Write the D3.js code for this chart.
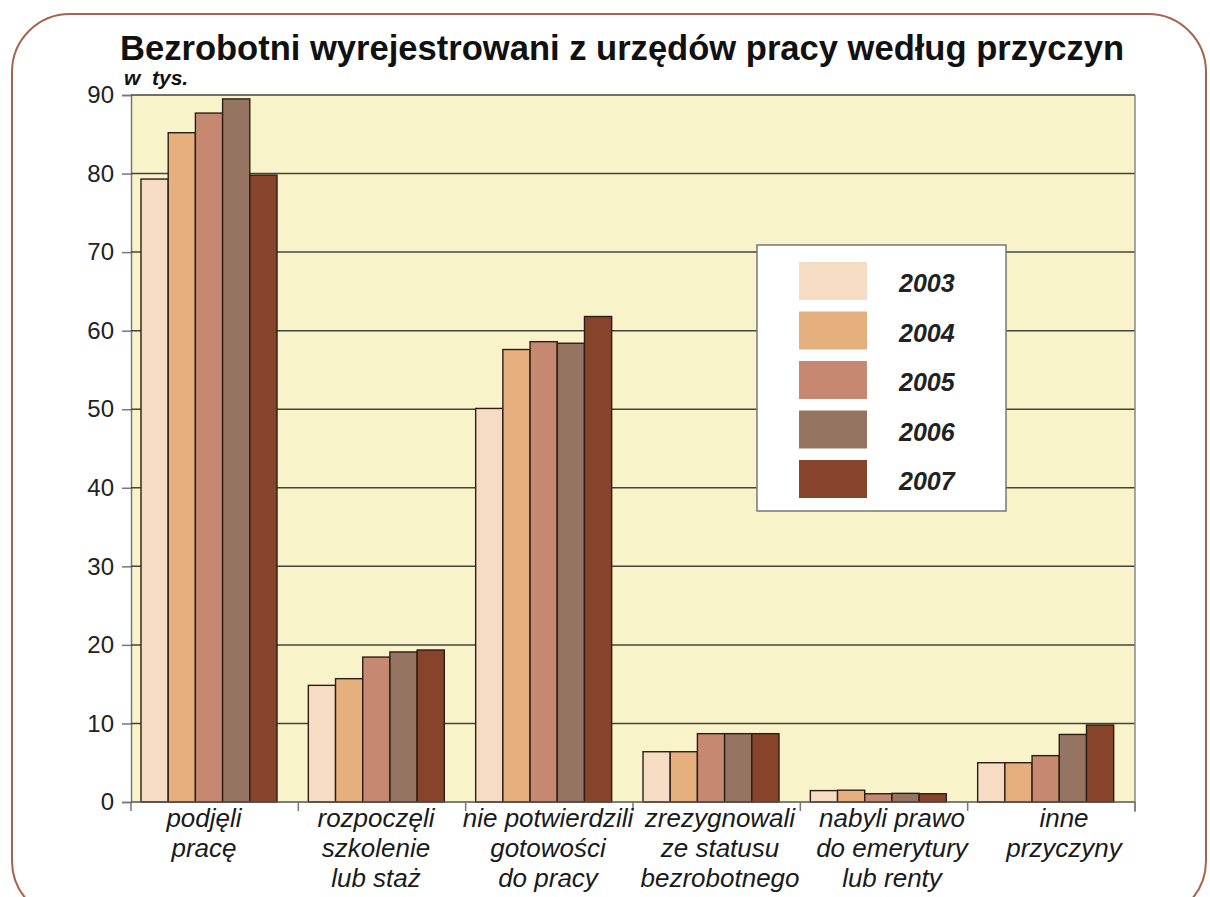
<!DOCTYPE html>
<html>
<head>
<meta charset="utf-8">
<script src="https://cdn.jsdelivr.net/npm/d3@7"></script>
<style>
  body { margin: 0; background: #fff; }
  svg { display: block; font-family: "Liberation Sans", Arial, sans-serif; }
</style>
</head>
<body>
<div id="chart"></div>
<script>
var w = 1210;
var h = 897;

// categories (each one split in lines as on the picture)
var categories = [
    ["podjęli", "pracę"],
    ["rozpoczęli", "szkolenie", "lub staż"],
    ["nie potwierdzili", "gotowości", "do pracy"],
    ["zrezygnowali", "ze statusu", "bezrobotnego"],
    ["nabyli prawo", "do emerytury", "lub renty"],
    ["inne", "przyczyny"]
];
var years = ["2003", "2004", "2005", "2006", "2007"];
// values in thousands, one array per year
var values2003 = [79.3, 14.85, 50.1, 6.4, 1.45, 5.0];
var values2004 = [85.2, 15.7, 57.6, 6.4, 1.5, 5.0];
var values2005 = [87.7, 18.45, 58.6, 8.7, 1.05, 5.9];
var values2006 = [89.5, 19.1, 58.4, 8.7, 1.1, 8.6];
var values2007 = [79.8, 19.35, 61.8, 8.7, 1.05, 9.8];
var yTicks = [0, 10, 20, 30, 40, 50, 60, 70, 80, 90];

var seriesValues = [values2003, values2004, values2005, values2006, values2007];
var colors = ["#F7DCC4", "#E6AF7E", "#C78872", "#957461", "#88432B"];

var plot = {left: 131, right: 1135, top: 95, bottom: 802};

var svg = d3.select("#chart")
    .append("svg")
    .attr("width", w)
    .attr("height", h);

//outer rounded frame
svg.append("rect")
    .attr("x", 12)
    .attr("y", 14)
    .attr("width", 1194)
    .attr("height", 905)
    .attr("rx", 58)
    .attr("ry", 58)
    .attr("fill", "none")
    .attr("stroke", "#A8634E")
    .attr("stroke-width", 2);

//title
svg.append("text")
    .attr("x", 120)
    .attr("y", 60)
    .attr("textLength", 1004)
    .attr("lengthAdjust", "spacingAndGlyphs")
    .style("font-size", "35px")
    .style("font-weight", "bold")
    .attr("fill", "#111")
    .text("Bezrobotni wyrejestrowani z urzędów pracy według przyczyn");

svg.append("text")
    .attr("x", 124)
    .attr("y", 85)
    .style("font-size", "21px")
    .style("font-weight", "bold")
    .style("font-style", "italic")
    .attr("fill", "#111")
    .attr("xml:space", "preserve")
    .text("w  tys.");

var catNames = categories.map(function (d) { return d.join(" "); });

var x = d3.scaleBand()
    .domain(catNames)
    .range([plot.left, plot.right])
    .padding(0);

var xInner = d3.scaleBand()
    .domain(years)
    .range([10, 146])
    .padding(0);

//labels sit a bit wider apart than the groups
var xLabel = d3.scaleBand()
    .domain(catNames)
    .range([118, 1150]);

var y = d3.scaleLinear()
    .domain([0, 90])
    .range([plot.bottom, plot.top]);

//plot background
svg.append("rect")
    .attr("x", plot.left)
    .attr("y", plot.top)
    .attr("width", plot.right - plot.left)
    .attr("height", plot.bottom - plot.top)
    .attr("fill", "#F8F3C9");

//y axis with gridlines
var yAxis = svg.append("g")
    .attr("transform", "translate(" + plot.left + ",0)")
    .call(d3.axisLeft(y)
        .tickValues(yTicks)
        .tickSize(9)
        .tickPadding(8)
        .tickFormat(d3.format("d")));
yAxis.select(".domain").attr("stroke", "#777").attr("stroke-width", 1.5);
yAxis.selectAll(".tick line").attr("stroke", "#777").attr("stroke-width", 1.5);
yAxis.selectAll(".tick text")
    .attr("fill", "#222")
    .style("font-size", "24px")
    .style("font-family", "'Liberation Sans', Arial, sans-serif");

svg.append("g")
    .selectAll("line")
    .data(yTicks.filter(function (d) { return d > 0; }))
    .enter()
    .append("line")
    .attr("x1", plot.left)
    .attr("x2", plot.right)
    .attr("y1", function (d) { return y(d); })
    .attr("y2", function (d) { return y(d); })
    .attr("stroke", "#44443e")
    .attr("stroke-width", 1.5);

//right frame line
svg.append("line")
    .attr("x1", plot.right)
    .attr("x2", plot.right)
    .attr("y1", plot.top)
    .attr("y2", plot.bottom + 10)
    .attr("stroke", "#888")
    .attr("stroke-width", 1.5);

//bars
var groups = svg.append("g")
    .selectAll("g")
    .data(catNames)
    .enter()
    .append("g")
    .attr("transform", function (d) { return "translate(" + x(d) + ",0)"; });

groups.selectAll("rect")
    .data(function (d, i) {
        return years.map(function (yr, j) {
            return {year: yr, value: seriesValues[j][i], color: colors[j]};
        });
    })
    .enter()
    .append("rect")
    .attr("x", function (d) { return xInner(d.year); })
    .attr("y", function (d) { return y(d.value); })
    .attr("width", xInner.bandwidth())
    .attr("height", function (d) { return y(0) - y(d.value); })
    .attr("fill", function (d) { return d.color; })
    .attr("stroke", "#2b1e18")
    .attr("stroke-width", 1.4);

//baseline and category ticks
svg.append("line")
    .attr("x1", plot.left)
    .attr("x2", plot.right)
    .attr("y1", y(0))
    .attr("y2", y(0))
    .attr("stroke", "#555")
    .attr("stroke-width", 1.5);

var bounds = catNames.map(function (d) { return x(d); }).concat([plot.right]);
svg.append("g")
    .selectAll("line")
    .data(bounds)
    .enter()
    .append("line")
    .attr("x1", function (d) { return d; })
    .attr("x2", function (d) { return d; })
    .attr("y1", y(0))
    .attr("y2", y(0) + 9)
    .attr("stroke", "#777")
    .attr("stroke-width", 1.5);

//category labels
var labels = svg.append("g")
    .selectAll("text")
    .data(categories)
    .enter()
    .append("text")
    .attr("text-anchor", "middle")
    .attr("fill", "#1a1a1a")
    .style("font-size", "26px")
    .style("font-style", "italic");

labels.each(function (lines, i) {
    var cx = xLabel(catNames[i]) + xLabel.bandwidth() / 2;
    d3.select(this).selectAll("tspan")
        .data(lines)
        .enter()
        .append("tspan")
        .attr("x", cx)
        .attr("y", function (d, k) { return 827 + k * 30; })
        .text(function (d) { return d; });
});

//legend
var legend = svg.append("g").attr("transform", "translate(757,245)");
legend.append("rect")
    .attr("width", 249)
    .attr("height", 266)
    .attr("fill", "#fff")
    .attr("stroke", "#777")
    .attr("stroke-width", 1.5);

var legendY = d3.scalePoint()
    .domain(years)
    .range([17, 215]);

legend.selectAll(".swatch")
    .data(years)
    .enter()
    .append("rect")
    .attr("class", "swatch")
    .attr("x", 42)
    .attr("y", function (d) { return legendY(d); })
    .attr("width", 68)
    .attr("height", 38)
    .attr("fill", function (d, i) { return colors[i]; });

legend.selectAll(".label")
    .data(years)
    .enter()
    .append("text")
    .attr("class", "label")
    .attr("x", 142)
    .attr("y", function (d) { return legendY(d) + 30; })
    .attr("fill", "#222")
    .style("font-size", "25px")
    .style("font-weight", "bold")
    .style("font-style", "italic")
    .text(function (d) { return d; });
</script>
</body>
</html>
